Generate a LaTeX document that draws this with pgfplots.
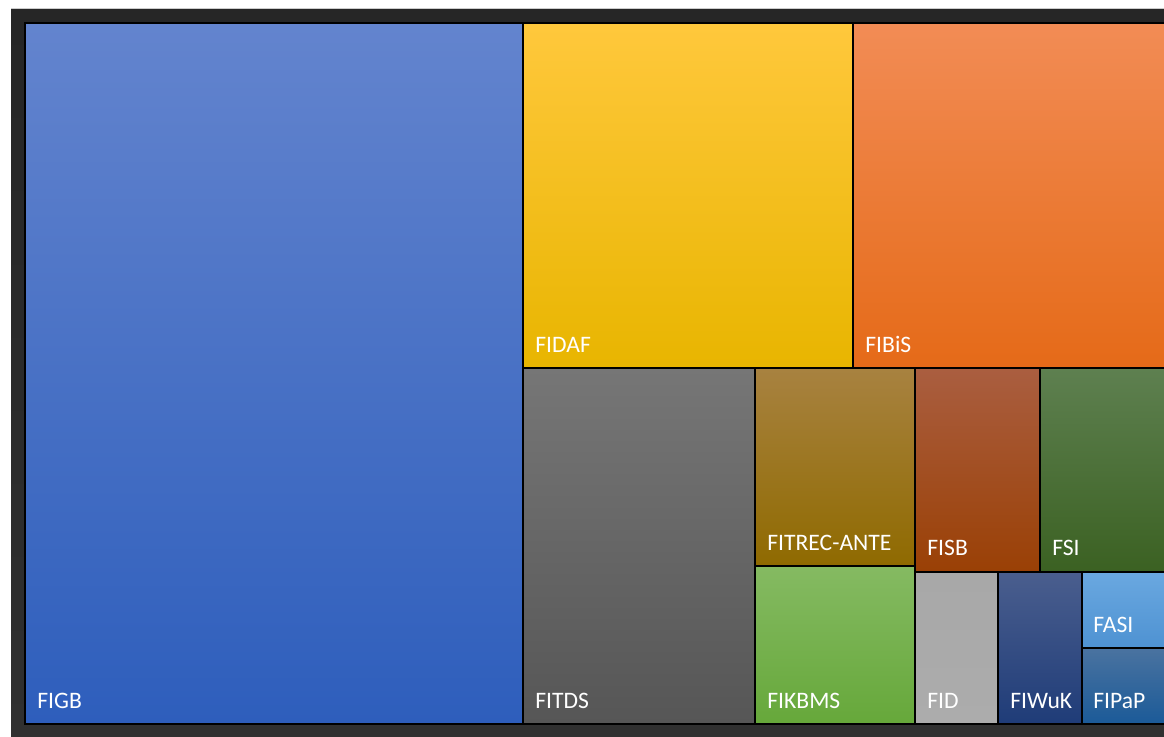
\documentclass[border=0pt]{standalone}
\usepackage{pgfplots}
\pgfplotsset{compat=1.18}
\usepackage{fontspec}
\setmainfont{Carlito}
\definecolor{frame}{HTML}{2A2A2A}
\newcommand{\lbl}[3]{\node[anchor=base west,text=white,inner sep=0pt,font=\fontsize{11.8}{14}\selectfont] at (axis cs:#1,#2) {#3};}
\begin{document}
\begin{tikzpicture}
\begin{axis}[
  scale only axis, width=582pt, height=368pt,
  xmin=0, xmax=1164, ymin=0, ymax=736, y dir=reverse,
  hide axis, clip=true]
% background
\addplot[fill=white, draw=none, mark=none] coordinates {(0,0) (1164,0) (1164,736) (0,736)} -- cycle;
\addplot[top color={rgb,255:red,38;green,38;blue,38}, bottom color={rgb,255:red,48;green,48;blue,48}, draw=none, mark=none] coordinates {(11,8) (1170,8) (1170,740) (11,740)} -- cycle;
\addplot[draw=gray!40, line width=0.6pt, mark=none] coordinates {(11,8.5) (1170,8.5)};
% treemap tiles
\addplot[draw=black, line width=1pt, mark=none, top color={rgb,255:red,99;green,132;blue,206}, middle color={rgb,255:red,72;green,117;blue,202}, bottom color={rgb,255:red,46;green,94;blue,188}] coordinates {(25,23) (523,23) (523,724) (25,724)} -- cycle;
\addplot[draw=black, line width=1pt, mark=none, top color={rgb,255:red,255;green,200;blue,60}, middle color={rgb,255:red,255;green,196;blue,0}, bottom color={rgb,255:red,232;green,181;blue,0}] coordinates {(523,23) (853,23) (853,368) (523,368)} -- cycle;
\addplot[draw=black, line width=1pt, mark=none, top color={rgb,255:red,242;green,140;blue,85}, middle color={rgb,255:red,244;green,123;blue,40}, bottom color={rgb,255:red,229;green,106;blue,24}] coordinates {(853,23) (1175,23) (1175,368) (853,368)} -- cycle;
\addplot[draw=black, line width=1pt, mark=none, top color={rgb,255:red,118;green,118;blue,118}, bottom color={rgb,255:red,86;green,86;blue,86}] coordinates {(523,368) (755,368) (755,724) (523,724)} -- cycle;
\addplot[draw=black, line width=1pt, mark=none, top color={rgb,255:red,168;green,130;blue,64}, middle color={rgb,255:red,156;green,115;blue,0}, bottom color={rgb,255:red,143;green,106;blue,0}] coordinates {(755,368) (915,368) (915,566) (755,566)} -- cycle;
\addplot[draw=black, line width=1pt, mark=none, top color={rgb,255:red,133;green,186;blue,98}, middle color={rgb,255:red,114;green,176;blue,72}, bottom color={rgb,255:red,102;green,168;blue,58}] coordinates {(755,566) (915,566) (915,724) (755,724)} -- cycle;
\addplot[draw=black, line width=1pt, mark=none, top color={rgb,255:red,170;green,94;blue,64}, middle color={rgb,255:red,161;green,74;blue,16}, bottom color={rgb,255:red,154;green,64;blue,5}] coordinates {(915,368) (1040,368) (1040,572) (915,572)} -- cycle;
\addplot[draw=black, line width=1pt, mark=none, top color={rgb,255:red,94;green,128;blue,80}, middle color={rgb,255:red,69;green,105;blue,46}, bottom color={rgb,255:red,59;green,97;blue,34}] coordinates {(1040,368) (1175,368) (1175,572) (1040,572)} -- cycle;
\addplot[draw=black, line width=1pt, mark=none, top color={rgb,255:red,168;green,168;blue,168}, bottom color={rgb,255:red,172;green,172;blue,172}] coordinates {(915,572) (998,572) (998,724) (915,724)} -- cycle;
\addplot[draw=black, line width=1pt, mark=none, top color={rgb,255:red,74;green,94;blue,142}, middle color={rgb,255:red,42;green,69;blue,128}, bottom color={rgb,255:red,31;green,60;blue,120}] coordinates {(998,572) (1082,572) (1082,724) (998,724)} -- cycle;
\addplot[draw=black, line width=1pt, mark=none, top color={rgb,255:red,106;green,168;blue,224}, bottom color={rgb,255:red,78;green,146;blue,210}] coordinates {(1082,572) (1175,572) (1175,648) (1082,648)} -- cycle;
\addplot[draw=black, line width=1pt, mark=none, top color={rgb,255:red,74;green,115;blue,160}, middle color={rgb,255:red,38;green,94;blue,149}, bottom color={rgb,255:red,27;green,90;blue,152}] coordinates {(1082,648) (1175,648) (1175,724) (1082,724)} -- cycle;
% labels
\lbl{37}{708}{FIGB}
\lbl{535}{352}{FIDAF}
\lbl{865}{352}{FIBiS}
\lbl{535}{708}{FITDS}
\lbl{767}{550}{FITREC-ANTE}
\lbl{767}{708}{FIKBMS}
\lbl{927}{555}{FISB}
\lbl{1052}{555}{FSI}
\lbl{927}{708}{FID}
\lbl{1010}{708}{FIWuK}
\lbl{1093}{632}{FASI}
\lbl{1093}{708}{FIPaP}
\end{axis}
\end{tikzpicture}
\end{document}
